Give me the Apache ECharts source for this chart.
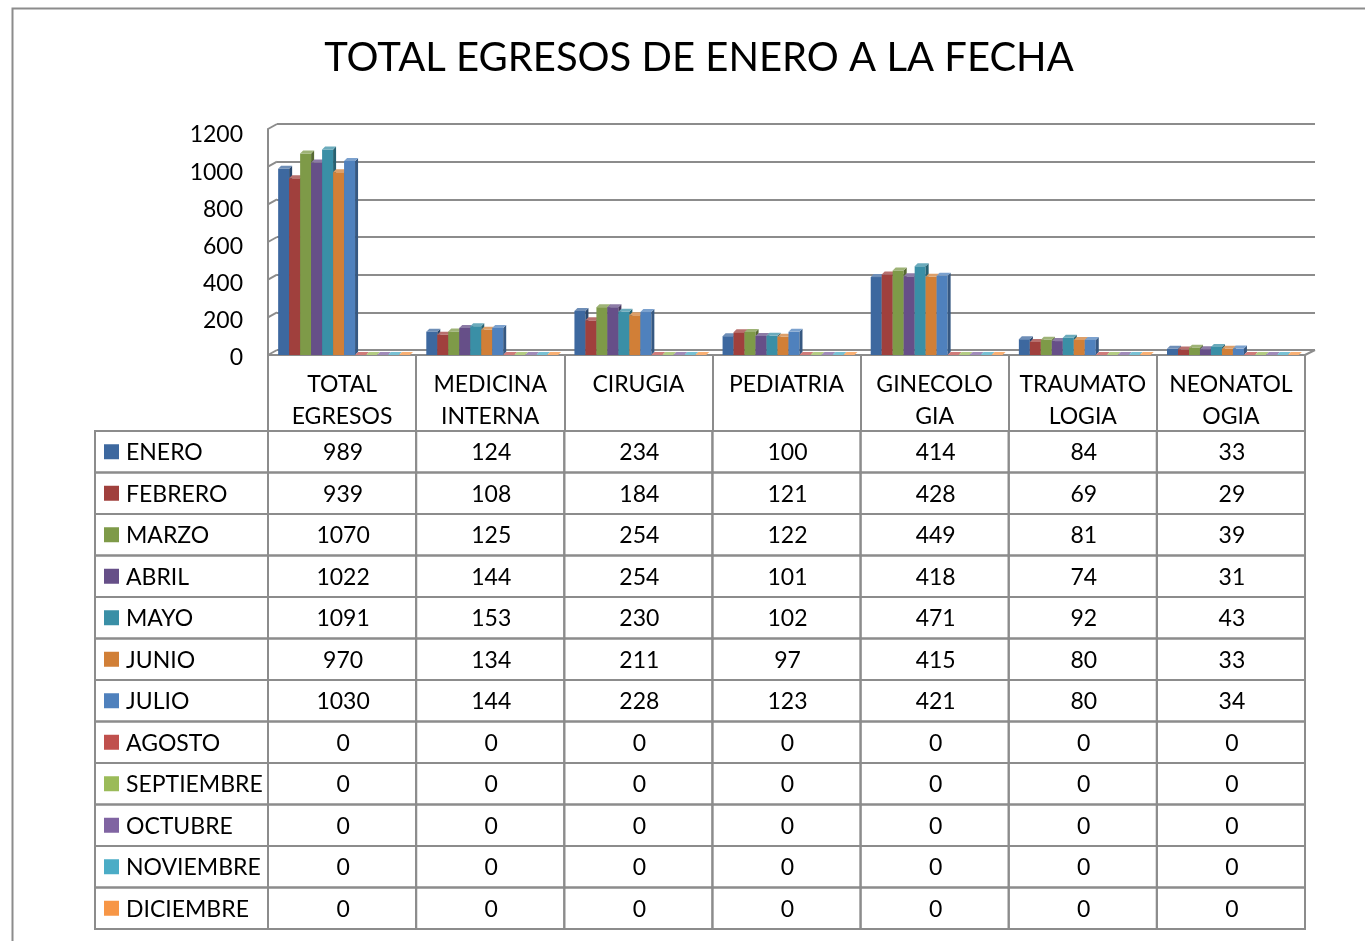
<!DOCTYPE html>
<html><head><meta charset="utf-8">
<script src="https://cdn.jsdelivr.net/npm/echarts@6/dist/echarts.min.js"></script>
<style>html,body{margin:0;padding:0;background:#fff}#c{width:1365px;height:941px}</style>
</head><body><div id="c"></div>
<script>
const chartTitle = 'TOTAL EGRESOS DE ENERO A LA FECHA';
const categories = ['TOTAL\nEGRESOS','MEDICINA\nINTERNA','CIRUGIA','PEDIATRIA','GINECOLO\nGIA','TRAUMATO\nLOGIA','NEONATOL\nOGIA'];
const months = ['ENERO','FEBRERO','MARZO','ABRIL','MAYO','JUNIO','JULIO','AGOSTO','SEPTIEMBRE','OCTUBRE','NOVIEMBRE','DICIEMBRE'];
const enero      = [989, 124, 234, 100, 414, 84, 33];
const febrero    = [939, 108, 184, 121, 428, 69, 29];
const marzo      = [1070, 125, 254, 122, 449, 81, 39];
const abril      = [1022, 144, 254, 101, 418, 74, 31];
const mayo       = [1091, 153, 230, 102, 471, 92, 43];
const junio      = [970, 134, 211, 97, 415, 80, 33];
const julio      = [1030, 144, 228, 123, 421, 80, 34];
const agosto     = [0, 0, 0, 0, 0, 0, 0];
const septiembre = [0, 0, 0, 0, 0, 0, 0];
const octubre    = [0, 0, 0, 0, 0, 0, 0];
const noviembre  = [0, 0, 0, 0, 0, 0, 0];
const diciembre  = [0, 0, 0, 0, 0, 0, 0];
const yTicks = [0, 200, 400, 600, 800, 1000, 1200];

const seriesValues = [enero, febrero, marzo, abril, mayo, junio, julio, agosto, septiembre, octubre, noviembre, diciembre];
const colors = ['#3D689F','#A0403D','#7E9A48','#664F88','#3A8FA6','#D17F37','#4F81BD','#C0504D','#9BBB59','#8064A2','#4BACC6','#F79646'];
const FONT = 'Lato';
const GRAY = '#8c8c8c';

function shade(hex, f) {
  const n = parseInt(hex.slice(1), 16);
  let r = (n >> 16) & 255, g = (n >> 8) & 255, b = n & 255;
  const m = v => Math.max(0, Math.min(255, Math.round(f > 1 ? v + (255 - v) * (f - 1) : v * f)));
  return 'rgb(' + m(r) + ',' + m(g) + ',' + m(b) + ')';
}

function barRender(idx) {
  return function (params, api) {
    const ci = api.value(0), v = api.value(1);
    const base = api.coord([ci, 0]);
    const top = api.coord([ci, v]);
    const cw = api.size([1, 0])[0];
    const groupW = cw * 0.89;
    const slot = groupW / 12;
    const x = base[0] - groupW / 2 + idx * slot + 2;
    const d = 3;
    const fw = slot;
    const yt = top[1], yb = base[1];
    const c = colors[idx];
    return { type: 'group', children: [
      { type: 'rect', shape: { x: x, y: yt, width: fw, height: yb - yt }, style: { fill: c } },
      { type: 'polygon', shape: { points: [[x + fw, yt], [x + fw + d, yt - d], [x + fw + d, yb - d], [x + fw, yb]] }, style: { fill: shade(c, 0.68) } },
      { type: 'polygon', shape: { points: [[x, yt], [x + d, yt - d], [x + fw + d, yt - d], [x + fw, yt]] }, style: { fill: shade(c, 1.25) } }
    ] };
  };
}

const series = [];
seriesValues.forEach(function (vals, idx) {
  series.push({
    type: 'custom', name: months[idx], xAxisIndex: 0, yAxisIndex: 0,
    renderItem: barRender(idx), encode: { x: 0, y: 1 },
    data: vals.map(function (v, i) { return [i, v]; }), z: 3
  });
});

// 3D corner stubs linking front edge to back wall
series.push({
  type: 'custom', xAxisIndex: 0, yAxisIndex: 0, silent: true, z: 2,
  encode: { x: 0, y: 1 },
  data: yTicks.map(function (t) { return [0, t]; }),
  renderItem: function (params, api) {
    const cs = params.coordSys;
    const y = api.coord([0, api.value(1)])[1];
    const ch = [{ type: 'line', shape: { x1: cs.x, y1: y, x2: cs.x + 9, y2: y - 5 }, style: { stroke: GRAY, lineWidth: 2 } }];
    if (api.value(1) === 0) {
      ch.push({ type: 'line', shape: { x1: cs.x + cs.width, y1: y, x2: cs.x + cs.width + 10, y2: y - 5 }, style: { stroke: GRAY, lineWidth: 2 } });
    }
    return { type: 'group', children: ch };
  }
});

// data table cells
const tableData = [];
seriesValues.forEach(function (vals, m) { vals.forEach(function (v, c) { tableData.push([c, m, v]); }); });
series.push({
  type: 'custom', xAxisIndex: 2, yAxisIndex: 2, silent: true,
  encode: { x: 0, y: 1 },
  data: tableData,
  renderItem: function (params, api) {
    const p = api.coord([api.value(0), api.value(1)]);
    const s = api.size([1, 1]);
    return { type: 'group', children: [
      { type: 'rect', shape: { x: p[0] - s[0] / 2, y: p[1] - s[1] / 2, width: s[0], height: s[1] }, style: { fill: 'none', stroke: GRAY, lineWidth: 2 } },
      { type: 'text', x: p[0] + 1, y: p[1] + 1, style: { text: String(api.value(2)), fill: '#000', font: '23px ' + FONT, align: 'center', verticalAlign: 'middle' } }
    ] };
  }
});

// row headers with legend keys
series.push({
  type: 'custom', xAxisIndex: 3, yAxisIndex: 3, silent: true,
  encode: { x: 0, y: 1 },
  data: months.map(function (m, i) { return [0, i]; }),
  renderItem: function (params, api) {
    const i = api.value(1);
    const p = api.coord([0, i]);
    const s = api.size([1, 1]);
    const x0 = p[0] - s[0] / 2;
    return { type: 'group', children: [
      { type: 'rect', shape: { x: x0, y: p[1] - s[1] / 2, width: s[0], height: s[1] }, style: { fill: 'none', stroke: GRAY, lineWidth: 2 } },
      { type: 'rect', shape: { x: x0 + 9, y: p[1] - 7.5, width: 15, height: 15 }, style: { fill: colors[i] } },
      { type: 'text', x: x0 + 31, y: p[1] + 1, style: { text: months[i], fill: '#000', font: '23px ' + FONT, align: 'left', verticalAlign: 'middle' } }
    ] };
  }
});

const chart = echarts.init(document.getElementById('c'), null, { renderer: 'canvas' });
chart.setOption({
  animation: false,
  backgroundColor: '#fff',
  title: { text: chartTitle, left: 694, top: 33, textAlign: 'center', textStyle: { fontSize: 40, fontWeight: 'normal', fontFamily: FONT, color: '#000' } },
  graphic: [{ type: 'rect', left: 10, top: 6, z: -1, shape: { width: 1400, height: 1000 }, style: { fill: 'none', stroke: GRAY, lineWidth: 2 } }],
  grid: [
    { left: 268, top: 129, width: 1037, height: 226 },
    { left: 277, top: 124, width: 1038, height: 226 },
    { left: 268, top: 431, width: 1037, height: 498 },
    { left: 95, top: 431, width: 173, height: 498 },
    { left: 268, top: 135, width: 1037, height: 223 }
  ],
  xAxis: [
    { gridIndex: 0, type: 'category', data: categories,
      axisLine: { show: true, lineStyle: { color: GRAY, width: 2 } },
      axisTick: { show: true, interval: 0, length: 75, lineStyle: { color: GRAY, width: 2 } },
      axisLabel: { interval: 0, fontSize: 23, lineHeight: 32, margin: 14, color: '#000', fontFamily: FONT },
      splitLine: { show: false } },
    { gridIndex: 1, type: 'category', data: categories, show: false },
    { gridIndex: 2, type: 'category', data: categories, show: false },
    { gridIndex: 3, type: 'category', data: [''], show: false },
    { gridIndex: 4, type: 'category', data: categories, show: false }
  ],
  yAxis: [
    { gridIndex: 0, type: 'value', min: 0, max: 1200, interval: 200,
      axisLine: { show: true, lineStyle: { color: GRAY, width: 2 } },
      axisTick: { show: false }, splitLine: { show: false }, axisLabel: { show: false } },
    { gridIndex: 1, type: 'value', min: 0, max: 1200, interval: 200,
      axisLine: { show: false }, axisTick: { show: false }, axisLabel: { show: false },
      splitLine: { show: true, lineStyle: { color: GRAY, width: 2 } } },
    { gridIndex: 2, type: 'category', data: months, inverse: true, show: false },
    { gridIndex: 3, type: 'category', data: months, inverse: true, show: false },
    { gridIndex: 4, type: 'value', min: 0, max: 1200, interval: 200,
      axisLine: { show: false }, axisTick: { show: false }, splitLine: { show: false },
      axisLabel: { fontSize: 23, margin: 25, color: '#000', fontFamily: FONT, formatter: function (v) { return String(v); } } }
  ],
  series: series
});
</script></body></html>
